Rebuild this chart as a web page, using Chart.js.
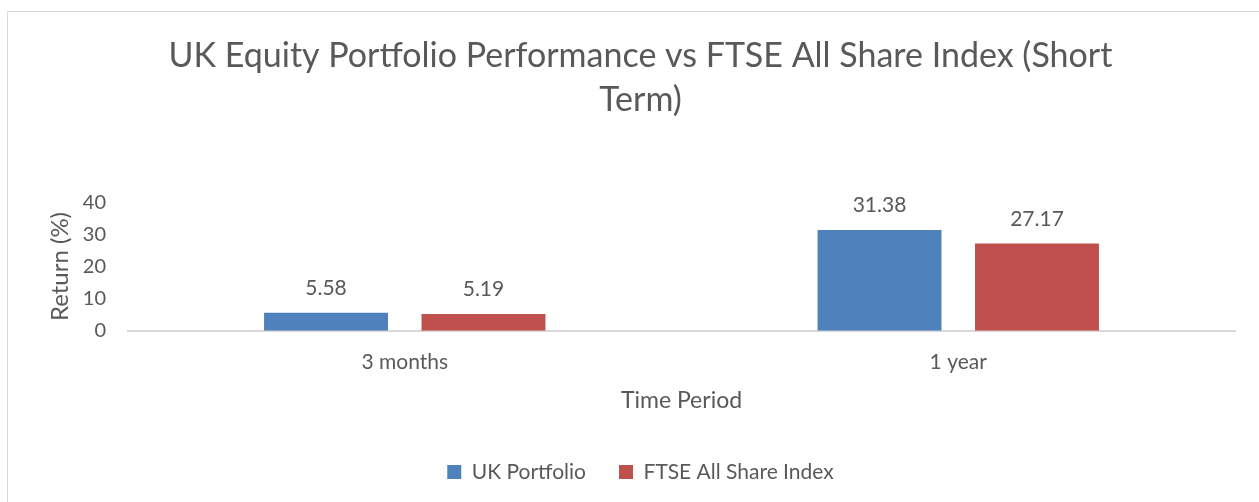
<!DOCTYPE html>
<html lang="en">
<head>
    <meta charset="UTF-8">
    <title>UK Equity Portfolio Performance vs FTSE All Share Index</title>
    <script src="https://cdn.jsdelivr.net/npm/chart.js"></script>
    <style>
        body {
            margin: 0;
            width: 1259px;
            height: 502px;
            overflow: hidden;
            background: #fff;
            position: relative;
        }

        .frame {
            position: absolute;
            left: 7px;
            top: 11px;
            width: 1300px;
            height: 600px;
            border: 1px solid #d9d9d9;
        }

        .chart-box {
            position: absolute;
            left: 0;
            top: 0;
            width: 1259px;
            height: 502px;
        }
    </style>
</head>
<body>
    <div class="frame"></div>
    <div class="chart-box">
        <canvas id="perfChart"></canvas>
    </div>

    <script>
        // Data
        const periods = ['3 months', '1 year'];
        const ukPortfolio = [5.58, 31.38];
        const ftseAllShare = [5.19, 27.17];
        const yTicks = [0, 10, 20, 30, 40];

        const textColor = '#595959';
        const fontFamily = "'Lato', 'Open Sans', sans-serif";

        // draws the value above each bar
        const valueLabels = {
            id: 'valueLabels',
            afterDatasetsDraw(chart) {
                const ctx = chart.ctx;
                ctx.save();
                ctx.fillStyle = textColor;
                ctx.font = '21px ' + fontFamily;
                ctx.textAlign = 'center';
                ctx.textBaseline = 'alphabetic';
                chart.data.datasets.forEach((ds, i) => {
                    chart.getDatasetMeta(i).data.forEach((bar, j) => {
                        ctx.fillText(ds.data[j].toFixed(2), bar.x, bar.y - 18);
                    });
                });
                ctx.restore();
            }
        };

        const ctx = document.getElementById('perfChart').getContext('2d');
        const chart = new Chart(ctx, {
            type: 'bar',
            data: {
                labels: periods,
                datasets: [
                    {
                        label: 'UK Portfolio',
                        data: ukPortfolio,
                        backgroundColor: '#4f81bd',
                        categoryPercentage: 0.569,
                        barPercentage: 0.787
                    },
                    {
                        label: 'FTSE All Share Index',
                        data: ftseAllShare,
                        backgroundColor: '#c0504d',
                        categoryPercentage: 0.569,
                        barPercentage: 0.787
                    }
                ]
            },
            options: {
                responsive: true,
                maintainAspectRatio: false,
                animation: false,
                layout: {
                    padding: { left: 46, right: 24, top: 34, bottom: 9.5 }
                },
                plugins: {
                    title: {
                        display: true,
                        text: ['UK Equity Portfolio Performance vs FTSE All Share Index (Short', 'Term)'],
                        color: textColor,
                        font: { family: fontFamily, size: 34, weight: 'normal', lineHeight: 1.294 },
                        padding: { top: 0, bottom: 80.4 }
                    },
                    legend: {
                        position: 'bottom',
                        labels: {
                            color: textColor,
                            font: { family: fontFamily, size: 21 },
                            boxWidth: 14,
                            boxHeight: 14,
                            padding: 33
                        }
                    },
                    tooltip: { enabled: false }
                },
                scales: {
                    x: {
                        grid: { display: false, drawTicks: false },
                        border: { color: '#d9d9d9', width: 2 },
                        ticks: {
                            color: textColor,
                            font: { family: fontFamily, size: 21 },
                            padding: 19
                        },
                        title: {
                            display: true,
                            text: 'Time Period',
                            color: textColor,
                            font: { family: fontFamily, size: 23, lineHeight: 0.6 },
                            padding: { top: 0, bottom: 20.8 }
                        }
                    },
                    y: {
                        min: 0,
                        max: 40,
                        afterBuildTicks(axis) {
                            axis.ticks = yTicks.map(v => ({ value: v }));
                        },
                        afterFit(axis) {
                            axis.width = 82;
                        },
                        grid: { display: false, drawTicks: false },
                        border: { display: false },
                        ticks: {
                            color: textColor,
                            font: { family: fontFamily, size: 20 },
                            padding: 22
                        },
                        title: {
                            display: true,
                            text: 'Return (%)',
                            color: textColor,
                            font: { family: fontFamily, size: 24 },
                            padding: { top: 0, bottom: 0 }
                        }
                    }
                }
            },
            plugins: [valueLabels]
        });
    </script>
</body>
</html>
